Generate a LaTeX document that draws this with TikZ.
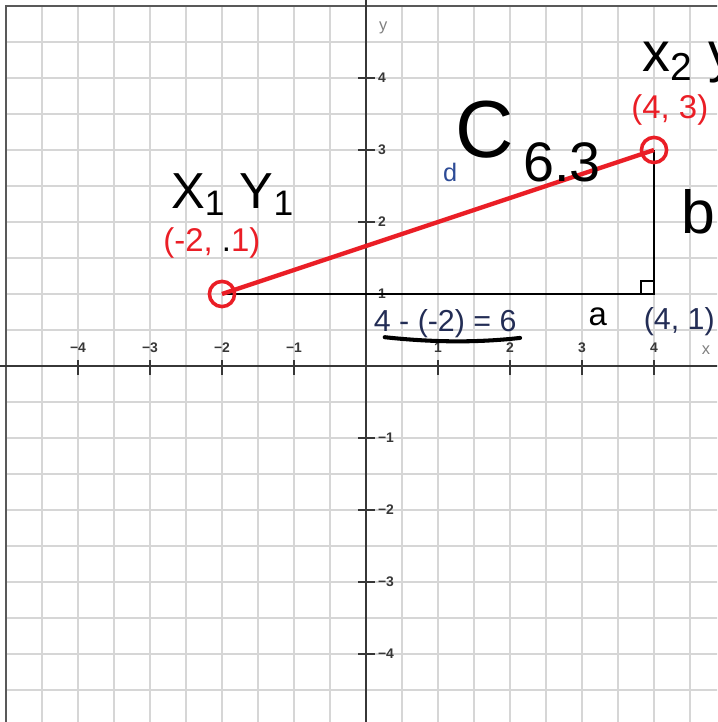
\documentclass[tikz,border=0pt]{standalone}
\usepackage{fontspec}
\setmainfont{Liberation Sans}
\usepackage{xcolor}
\usetikzlibrary{arrows.meta, positioning}

\definecolor{ptred}{RGB}{234,30,38}
\definecolor{gridgray}{RGB}{214,214,214}
\definecolor{axisgray}{RGB}{55,55,55}
\definecolor{calcnavy}{RGB}{35,45,85}
\definecolor{dblue}{RGB}{45,75,150}

\begin{document}
\begin{tikzpicture}[
  gridline/.style={draw=gridgray, line width=0.9pt},
  axis/.style={draw=axisgray, line width=0.7pt},
  ticklabel/.style={font=\fontsize{5.5}{6}\selectfont\bfseries, text=axisgray, inner sep=0pt},
  axname/.style={font=\fontsize{6.5}{7}\selectfont, text=gray, inner sep=0pt},
  pt/.style={circle, draw=ptred, line width=1.4pt, minimum size=0.35cm, inner sep=0pt},
  seg/.style={draw=ptred, line width=1.7pt},
  leg/.style={draw=black, line width=0.8pt},
  ptlabel/.style={font=\fontsize{13}{15}\selectfont, text=ptred, inner sep=0pt},
  calclabel/.style={font=\fontsize{12}{14}\selectfont, text=calcnavy, inner sep=0pt},
  hand/.style={font=\fontsize{22}{24}\selectfont, text=black, inner sep=0pt},
]

\useasboundingbox (-5.083,-4.944) rectangle (4.875,5.083);
\clip (-5.083,-4.944) rectangle (4.875,5.083);

% Grid paper
\draw[gridline, step=0.5cm] (-5,-5.5) grid (5.5,5);
\draw[draw=gray!70!black, line width=0.8pt] (-5,-6) rectangle (6,5);

% Axes
\draw[axis] (-5.2,0) -- (5.2,0);
\draw[axis] (0,-5.2) -- (0,5.2);
\foreach \i in {1,...,4} {
  \draw[axis] (\i,0.08) -- (\i,-0.13);
  \draw[axis] (-\i,0.08) -- (-\i,-0.13);
  \node[ticklabel] at (\i,0.25) {\i};
  \node[ticklabel] at (-\i,0.25) {−\i};
  \draw[axis] (-0.11,\i) -- (0.12,\i);
  \draw[axis] (-0.11,-\i) -- (0.12,-\i);
  \node[ticklabel, anchor=west] at (0.16,\i) {\i};
  \node[ticklabel, anchor=west] at (0.16,-\i) {−\i};
}
\node[axname] (xname) at (4.72,0.22) {x};
\node[axname] (yname) at (0.24,4.69) {y};

% Points and the right triangle
\coordinate (p1) at (-2,1);
\coordinate (p2) at (4,3);
\coordinate (p3) at (4,1);

\draw[leg] (p1) -- (p3) -- (p2);
\draw[leg] ([xshift=-0.18cm]p3) -- ++(0,0.18) -- ++(0.18,0);
\draw[seg] (p1) -- (p2);
\node[pt] (c1) at (p1) {};
\node[pt] (c2) at (p2) {};

% Printed labels
\node[ptlabel] (lab1) at (-2.14,1.71) {(-2, {\color{black}.}1)};
\node[ptlabel, anchor=west] (lab2) at (3.68,3.56) {(4, 3)};
\node[calclabel] (lab3) at (4.35,0.61) {(4, 1)};
\node[calclabel] (diff) at (1.10,0.59) {4 - (-2) = 6};
\node[font=\fontsize{10}{12}\selectfont, text=dblue, inner sep=0pt] (dlab) at (1.17,2.69) {d};

% Hand notes
\node[hand, font=\fontsize{20}{22}\selectfont] (xy1) at (-1.85,2.38) {X\textsubscript{1} Y\textsubscript{1}};
\node[hand, anchor=west] (xy2) at (3.83,4.22) {x\textsubscript{2} y\textsubscript{2}};
\node[hand, font=\fontsize{32}{34}\selectfont] (side c) at (1.65,3.28) {C};
\node[hand] (len) at (2.72,2.83) {6.3};
\node[hand, font=\fontsize{24}{26}\selectfont, anchor=west] (side b) at (4.38,2.14) {b};
\node[hand, font=\fontsize{13}{15}\selectfont] (side a) at (3.22,0.68) {a};
\draw[line width=1.6pt, line cap=round] (0.26,0.4) .. controls (1.0,0.32) and (1.6,0.33) .. (2.14,0.39);
\end{tikzpicture}
\end{document}
